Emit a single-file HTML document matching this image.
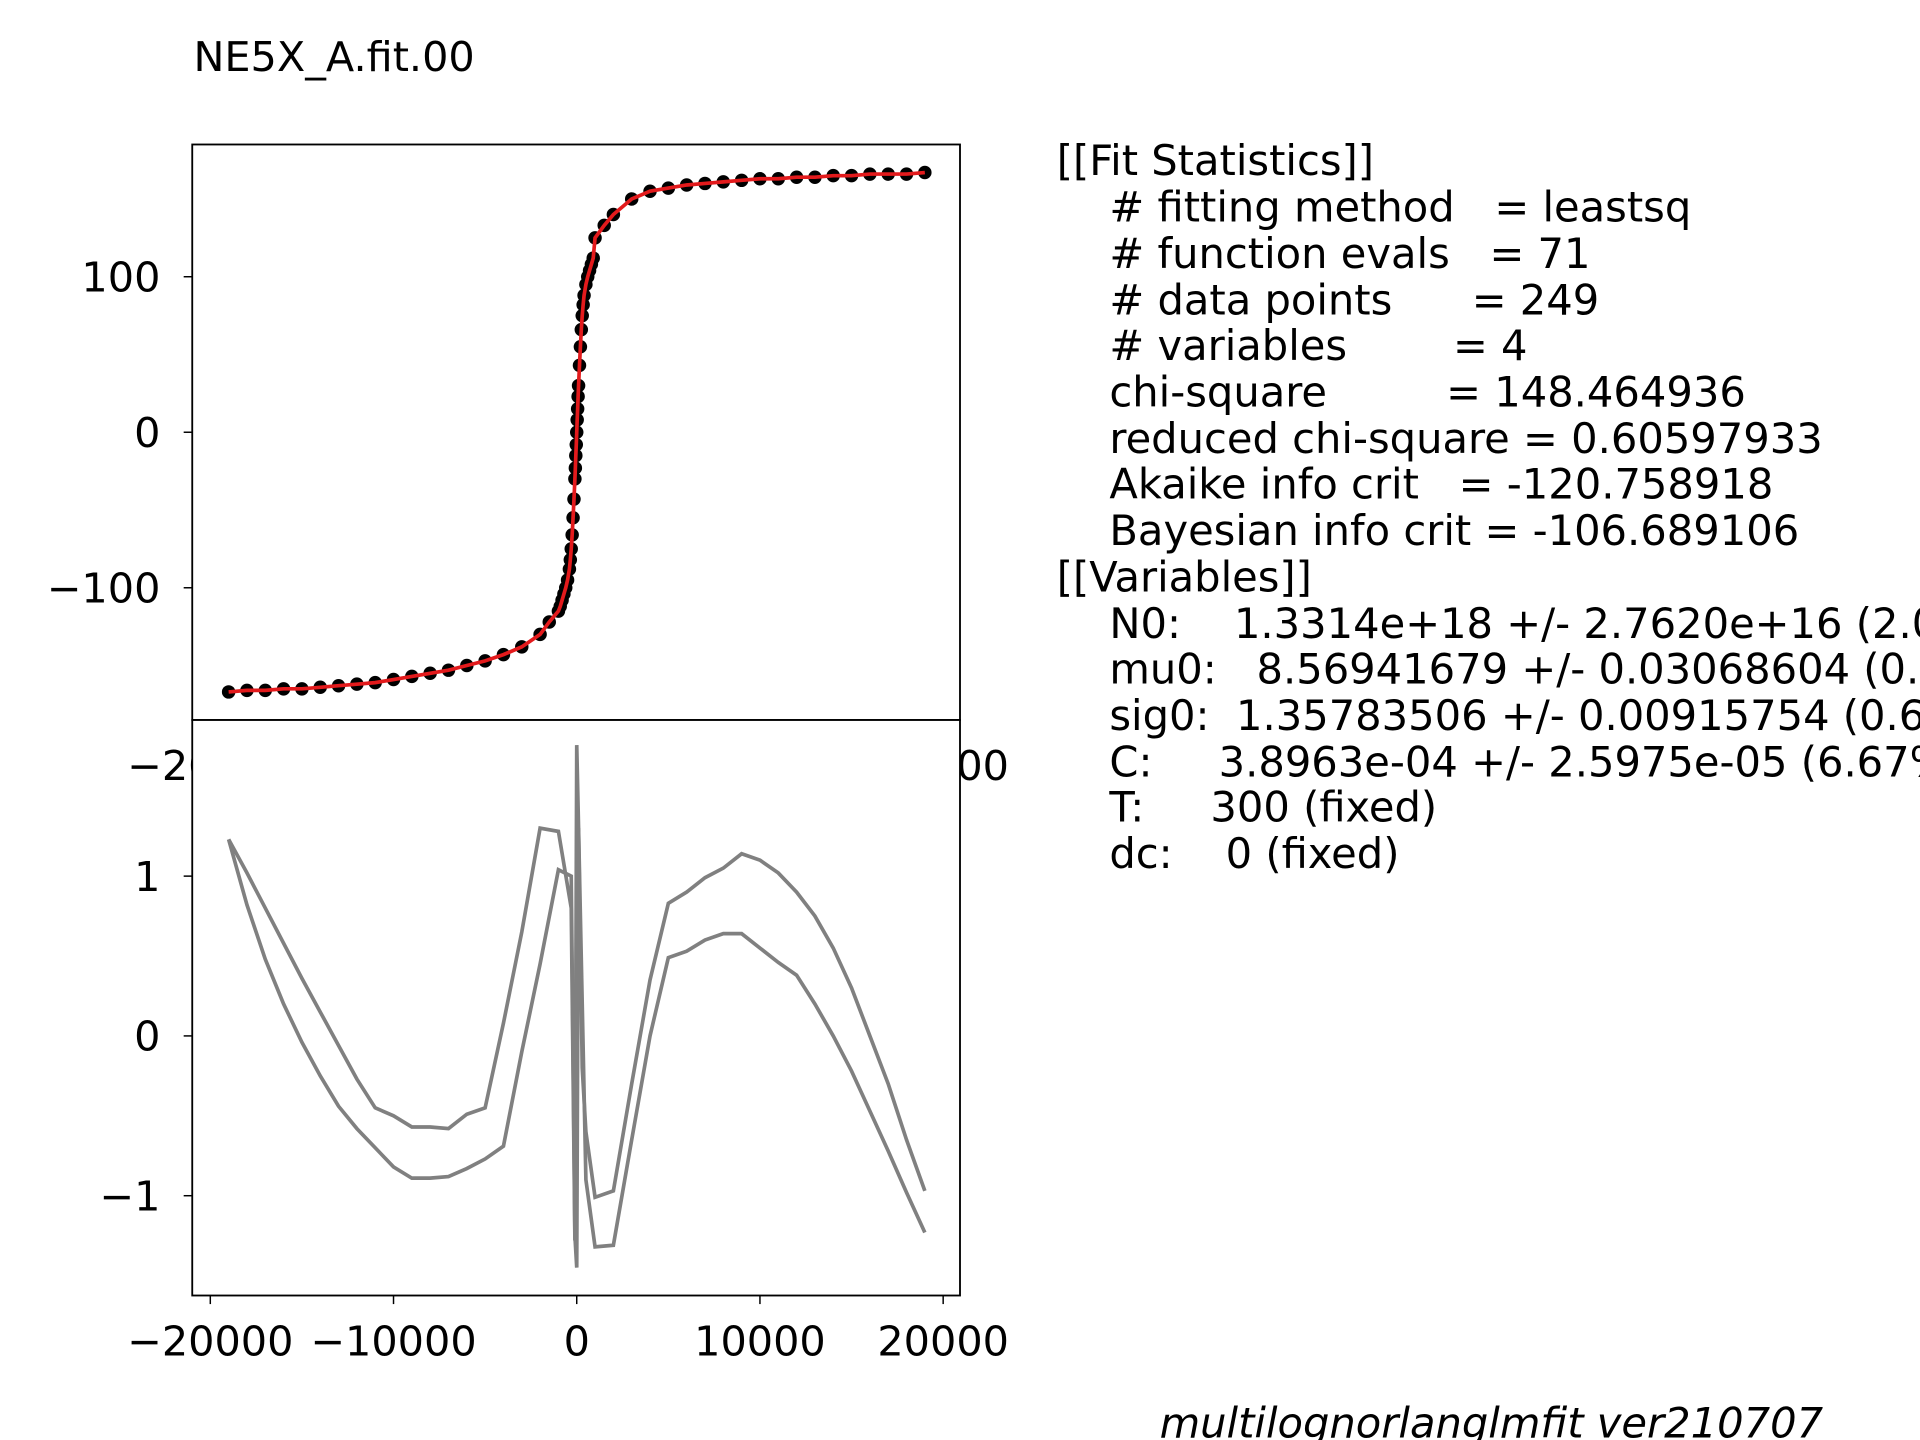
<!DOCTYPE html>
<html><head><meta charset="utf-8"><style>
html,body{margin:0;padding:0;background:#fff;overflow:hidden}
svg{display:block}
text{font-family:"DejaVu Sans","Liberation Sans",sans-serif;fill:#000}
</style></head><body>
<svg id="chart" width="1920" height="1440" viewBox="0 0 1568 1176" xmlns="http://www.w3.org/2000/svg">
<rect width="1568" height="1176" fill="#fff"/>
<text x="158" y="58" font-size="33.8">NE5X_A.fit.00</text>
<g id="gtop"></g>
<g id="gbot"></g>
<g font-size="34">
<text x="863" y="143">[[Fit Statistics]]</text>
<text x="906" y="181" xml:space="preserve"># fitting method   = leastsq</text>
<text x="906" y="219" xml:space="preserve"># function evals   = 71</text>
<text x="906" y="257" xml:space="preserve"># data points      = 249</text>
<text x="906" y="294" xml:space="preserve"># variables        = 4</text>
<text x="906" y="332" xml:space="preserve">chi-square         = 148.464936</text>
<text x="906" y="370" xml:space="preserve">reduced chi-square = 0.60597933</text>
<text x="906" y="407" xml:space="preserve">Akaike info crit   = -120.758918</text>
<text x="906" y="445" xml:space="preserve">Bayesian info crit = -106.689106</text>
<text x="863" y="483">[[Variables]]</text>
<text x="906" y="521" xml:space="preserve">N0:    1.3314e+18 +/- 2.7620e+16 (2.07%) (init = 1e+18)</text>
<text x="906" y="558" xml:space="preserve">mu0:   8.56941679 +/- 0.03068604 (0.36%) (init = 10)</text>
<text x="906" y="596" xml:space="preserve">sig0:  1.35783506 +/- 0.00915754 (0.67%) (init = 1)</text>
<text x="906" y="634" xml:space="preserve">C:     3.8963e-04 +/- 2.5975e-05 (6.67%) (init = 0)</text>
<text x="906" y="671" xml:space="preserve">T:     300 (fixed)</text>
<text x="906" y="709" xml:space="preserve">dc:    0 (fixed)</text>
</g>
<text x="947" y="1174" font-size="34" font-style="italic">multilognorlanglmfit ver210707</text>
</svg>
<script>
const magX = [-19000,-18000,-17000,-16000,-15000,-14000,-13000,-12000,-11000,-10000,-9000,-8000,-7000,-6000,-5000,-4000,-3000,-2000,-1500,-1000,-900,-800,-700,-600,-500,-400,-350,-300,-250,-200,-150,-100,-75,-50,-25,0,25,50,75,100,150,200,250,300,350,400,500,600,700,800,900,1000,1500,2000,3000,4000,5000,6000,7000,8000,9000,10000,11000,12000,13000,14000,15000,16000,17000,18000,19000];
const magY = [-167,-166,-166,-165,-165,-164,-163,-162,-161,-159,-157,-155,-153,-150,-147,-143,-138,-130,-122,-115,-112,-108,-104,-100,-95,-88,-82,-75,-66,-55,-43,-30,-23,-15,-8,0,8,15,23,30,43,55,66,75,82,88,95,100,104,108,112,125,133,140,150,155,157,159,160,161,162,163,163,164,164,165,165,166,166,166,167];
const resX = [-19000,-18000,-17000,-16000,-15000,-14000,-13000,-12000,-11000,-10000,-9000,-8000,-7000,-6000,-5000,-4000,-3000,-2000,-1000,-300,-100,0,100,300,500,1000,2000,3000,4000,5000,6000,7000,8000,9000,10000,11000,12000,13000,14000,15000,16000,17000,18000,19000];
const resA = [1.23,1.02,0.80,0.58,0.36,0.15,-0.06,-0.27,-0.45,-0.50,-0.57,-0.57,-0.58,-0.49,-0.45,0.08,0.65,1.30,1.28,0.8,-1.28,1.82,1.3,-0.2,-0.6,-1.01,-0.97,-0.3,0.35,0.83,0.9,0.99,1.05,1.14,1.1,1.02,0.9,0.75,0.55,0.3,0.0,-0.3,-0.65,-0.97];
const resB = [1.23,0.82,0.48,0.2,-0.04,-0.25,-0.44,-0.58,-0.7,-0.82,-0.89,-0.89,-0.88,-0.83,-0.77,-0.69,-0.1,0.45,1.04,1.0,-1.25,-1.45,1.3,0.2,-0.9,-1.32,-1.31,-0.65,0.0,0.49,0.53,0.6,0.64,0.64,0.55,0.46,0.38,0.2,0.0,-0.22,-0.47,-0.72,-0.98,-1.23];
const xTicks = [-20000,-10000,0,10000,20000];
const xTickLabels = ["\u221220000","\u221210000","0","10000","20000"];
const topTicks = [100,0,-100];
const topTickLabels = ["100","0","\u2212100"];
const botTicks = [1,0,-1];
const botTickLabels = ["1","0","\u22121"];

const NS="http://www.w3.org/2000/svg";
const L=157,R=784,T1=118,B1=588,T2=588,B2=1058;
const FS=33.8;
const sx=v=>471+v*(770-171.5)/40000;
const sy1=v=>353-v*1.27;
const sy2=v=>846-v*130.5;
function mk(tag,attrs,parent){const e=document.createElementNS(NS,tag);for(const k in attrs)e.setAttribute(k,attrs[k]);parent.appendChild(e);return e;}
const gTop=document.getElementById('gtop'),gBot=document.getElementById('gbot');

xTicks.forEach((t,i)=>{
  const tk=mk('line',{x1:sx(t),x2:sx(t),y1:B1,y2:B1+7,stroke:'#000','stroke-width':1.2},gTop);
  
  
  const tx=mk('text',{x:sx(t),y:B1+49,'font-size':FS,'text-anchor':'middle'},gTop);
  tx.textContent=xTickLabels[i];
  
  
});
topTicks.forEach((t,i)=>{
  const tk=mk('line',{x1:L-7,x2:L,y1:sy1(t),y2:sy1(t),stroke:'#000','stroke-width':1.2},gTop);
  
  
  const tx=mk('text',{x:L-26,y:sy1(t)+12,'font-size':FS,'text-anchor':'end'},gTop);
  tx.textContent=topTickLabels[i];
  
  
});
magX.forEach((x,i)=>{
  const c=mk('circle',{cx:sx(x),cy:sy1(magY[i]),r:5.5,fill:'#000'},gTop);
  
  
});
const fit=mk('polyline',{points:magX.map((x,i)=>sx(x)+','+sy1(magY[i])).join(' '),fill:'none',stroke:'#e31a1c','stroke-width':3},gTop);


const f1=mk('rect',{x:L,y:T1,width:R-L,height:B1-T1,fill:'none',stroke:'#000','stroke-width':1.5},gTop);



const bg=mk('rect',{x:L,y:T2,width:R-L,height:B2-T2,fill:'#fff'},gBot);


xTicks.forEach((t,i)=>{
  const tk=mk('line',{x1:sx(t),x2:sx(t),y1:B2,y2:B2+7,stroke:'#000','stroke-width':1.2},gBot);
  
  
  const tx=mk('text',{x:sx(t),y:B2+49,'font-size':FS,'text-anchor':'middle'},gBot);
  tx.textContent=xTickLabels[i];
  
  
});
botTicks.forEach((t,i)=>{
  const tk=mk('line',{x1:L-7,x2:L,y1:sy2(t),y2:sy2(t),stroke:'#000','stroke-width':1.2},gBot);
  
  
  const tx=mk('text',{x:L-26,y:sy2(t)+12,'font-size':FS,'text-anchor':'end'},gBot);
  tx.textContent=botTickLabels[i];
  
  
});
[resA,resB].forEach((s,k)=>{
  const p=mk('polyline',{points:resX.map((x,i)=>sx(x)+','+sy2(s[i])).join(' '),fill:'none',stroke:'#808080','stroke-width':3},gBot);
  
  
});
const f2=mk('rect',{x:L,y:T2,width:R-L,height:B2-T2,fill:'none',stroke:'#000','stroke-width':1.5},gBot);


</script>
</body></html>
